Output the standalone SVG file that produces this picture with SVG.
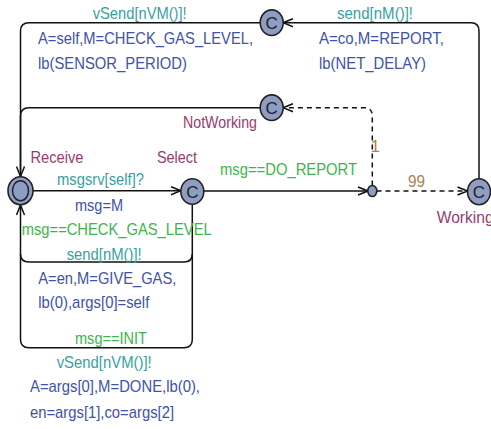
<svg xmlns="http://www.w3.org/2000/svg" width="491" height="429" viewBox="0 0 491 429">
<style>
text{font-family:"Liberation Sans",Arial,sans-serif;font-size:17px}
.loc{fill:#9a3b6e}
.grd{fill:#3db54e}
.syn{fill:#3a9f9f}
.asg{fill:#4152a8}
.prb{fill:#a9834f}
.node{fill:#8e9dc4;stroke:#222;stroke-width:1.6}
.ct{font-size:17px;fill:#222}
.e{fill:none;stroke:#111;stroke-width:1.5}
.d{stroke-dasharray:5 4}
</style>
<defs>
<marker id="ar" markerUnits="userSpaceOnUse" markerWidth="12" markerHeight="10" refX="11" refY="5" orient="auto" viewBox="0 0 12 10">
<path d="M1,1 L11,5 L1,9" fill="none" stroke="#111" stroke-width="1.5"/>
</marker>
</defs>
<g id="edges">
<path class="e" d="M479 178 L479 31 Q479 22.7 471 22.7 L283 22.7" marker-end="url(#ar)"/>
<path class="e" d="M260.5 22.7 L29 22.7 Q20.5 22.7 20.5 31 L20.5 176.5" marker-end="url(#ar)"/>
<path class="e" d="M260.5 107.7 L29 107.7 Q20.5 107.7 20.5 116 L20.5 176.5"/>
<path class="e" d="M33 190.7 L181 190.7" marker-end="url(#ar)"/>
<path class="e" d="M203.5 191 L368 191" marker-end="url(#ar)"/>
<path class="e d" d="M372.3 185.5 L372.3 116 Q372.3 107.7 364 107.7 L283 107.7" marker-end="url(#ar)"/>
<path class="e d" d="M376.5 191 L467.5 191" marker-end="url(#ar)"/>
<path class="e" d="M192.3 204 L192.3 254 Q192.3 262 184 262 L29 262 Q20.5 262 20.5 254 L20.5 205" marker-end="url(#ar)"/>
<path class="e" d="M192.3 254 L192.3 339.5 Q192.3 347.7 184 347.7 L29 347.7 Q20.5 347.7 20.5 339.5 L20.5 254"/>
</g>
<g id="receive">
<ellipse class="node" cx="20.5" cy="190.7" rx="12.5" ry="14"/>
<ellipse cx="20.5" cy="190.7" rx="8" ry="10" fill="none" stroke="#222" stroke-width="1.5"/>
<text class="loc" x="30.5" y="163" textLength="53" lengthAdjust="spacingAndGlyphs">Receive</text>
</g>
<g id="select">
<ellipse class="node" cx="192.3" cy="191.5" rx="11.5" ry="12.8"/>
<text class="ct" x="192.3" y="197.5" text-anchor="middle">C</text>
<text class="loc" x="157" y="163" textLength="40" lengthAdjust="spacingAndGlyphs">Select</text>
</g>
<g id="branch">
<ellipse class="node" cx="372.3" cy="191" rx="4.5" ry="5.5" stroke-width="1.3"/>
</g>
<g id="working">
<ellipse class="node" cx="479" cy="191.7" rx="11.5" ry="13"/>
<text class="ct" x="479" y="197.7" text-anchor="middle">C</text>
<text class="loc" x="436.7" y="223" textLength="57" lengthAdjust="spacingAndGlyphs">Working</text>
</g>
<g id="top">
<ellipse class="node" cx="271.7" cy="22.7" rx="11.5" ry="12.8"/>
<text class="ct" x="271.7" y="28.7" text-anchor="middle">C</text>
</g>
<g id="notworking">
<ellipse class="node" cx="271.7" cy="107.7" rx="11.5" ry="12.8"/>
<text class="ct" x="271.7" y="113.7" text-anchor="middle">C</text>
<text class="loc" x="183" y="128" textLength="74" lengthAdjust="spacingAndGlyphs">NotWorking</text>
</g>
<g id="labels">
<text class="syn" x="92.7" y="18.5" textLength="94" lengthAdjust="spacingAndGlyphs">vSend[nVM()]!</text>
<text class="asg" x="38" y="43.5" textLength="215" lengthAdjust="spacingAndGlyphs">A=self,M=CHECK_GAS_LEVEL,</text>
<text class="asg" x="38" y="68.5" textLength="149" lengthAdjust="spacingAndGlyphs">lb(SENSOR_PERIOD)</text>
<text class="syn" x="337" y="18.5" textLength="76" lengthAdjust="spacingAndGlyphs">send[nM()]!</text>
<text class="asg" x="319" y="43.5" textLength="125" lengthAdjust="spacingAndGlyphs">A=co,M=REPORT,</text>
<text class="asg" x="319" y="68.5" textLength="107" lengthAdjust="spacingAndGlyphs">lb(NET_DELAY)</text>
<text class="syn" x="57" y="185" textLength="87" lengthAdjust="spacingAndGlyphs">msgsrv[self]?</text>
<text class="asg" x="75" y="211" textLength="48" lengthAdjust="spacingAndGlyphs">msg=M</text>
<text class="grd" x="220" y="175" textLength="137" lengthAdjust="spacingAndGlyphs">msg==DO_REPORT</text>
<text class="prb" x="370.5" y="151.5" font-size="16">1</text>
<text class="prb" x="408" y="187" textLength="17" lengthAdjust="spacingAndGlyphs">99</text>
<text class="grd" x="21.7" y="235" textLength="190" lengthAdjust="spacingAndGlyphs">msg==CHECK_GAS_LEVEL</text>
<text class="syn" x="66.7" y="259.5" textLength="75" lengthAdjust="spacingAndGlyphs">send[nM()]!</text>
<text class="asg" x="38.3" y="283.5" textLength="138" lengthAdjust="spacingAndGlyphs">A=en,M=GIVE_GAS,</text>
<text class="asg" x="38.3" y="308" textLength="111" lengthAdjust="spacingAndGlyphs">lb(0),args[0]=self</text>
<text class="grd" x="75" y="344" textLength="72" lengthAdjust="spacingAndGlyphs">msg==INIT</text>
<text class="syn" x="56.7" y="368" textLength="95" lengthAdjust="spacingAndGlyphs">vSend[nVM()]!</text>
<text class="asg" x="30" y="391.5" textLength="170" lengthAdjust="spacingAndGlyphs">A=args[0],M=DONE,lb(0),</text>
<text class="asg" x="30" y="417.5" textLength="144" lengthAdjust="spacingAndGlyphs">en=args[1],co=args[2]</text>
</g>
</svg>
